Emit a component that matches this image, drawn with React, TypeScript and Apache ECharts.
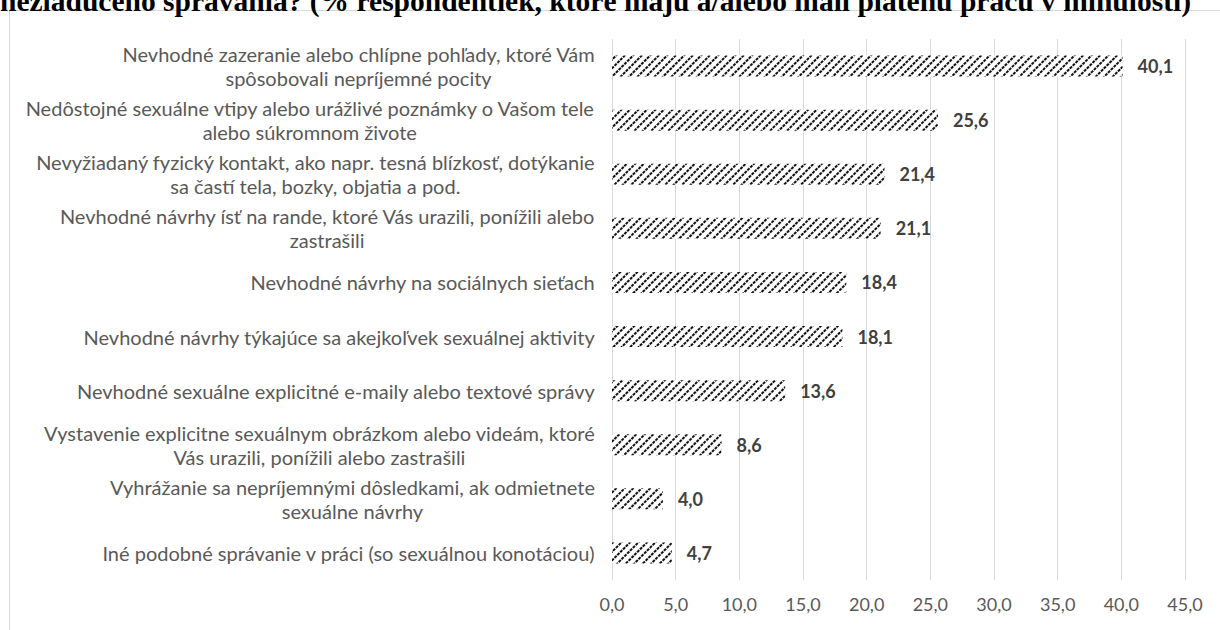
import React, { useEffect, useRef } from "react";
import * as echarts from "echarts";

const TITLE = "neziadúceho správania? (% respondentiek, ktoré majú a/alebo mali platenú prácu v minulosti)";

const categories = [
  "Nevhodné zazeranie alebo chlípne pohľady, ktoré Vám\nspôsobovali nepríjemné pocity",
  "Nedôstojné sexuálne vtipy alebo urážlivé poznámky o Vašom tele\nalebo súkromnom živote",
  "Nevyžiadaný fyzický kontakt, ako napr. tesná blízkosť, dotýkanie\nsa častí tela, bozky, objatia a pod.",
  "Nevhodné návrhy ísť na rande, ktoré Vás urazili, ponížili alebo\nzastrašili",
  "Nevhodné návrhy na sociálnych sieťach",
  "Nevhodné návrhy týkajúce sa akejkoľvek sexuálnej aktivity",
  "Nevhodné sexuálne explicitné e-maily alebo textové správy",
  "Vystavenie explicitne sexuálnym obrázkom alebo videám, ktoré\nVás urazili, ponížili alebo zastrašili",
  "Vyhrážanie sa nepríjemnými dôsledkami, ak odmietnete\nsexuálne návrhy",
  "Iné podobné správanie v práci (so sexuálnou konotáciou)",
];

const values = [40.1, 25.6, 21.4, 21.1, 18.4, 18.1, 13.6, 8.6, 4.0, 4.7];

const AXIS_MIN = 0;
const AXIS_MAX = 45;
const AXIS_STEP = 5;

const fmt = (v: number) => v.toFixed(1).replace(".", ",");

export default function App() {
  const ref = useRef<HTMLDivElement>(null);
  useEffect(() => {
    if (!ref.current) return;
    const chart = echarts.init(ref.current, undefined, { renderer: "svg" });
    chart.setOption({
      animation: false,
      backgroundColor: "#ffffff",
      graphic: [
        {
          type: "rect",
          silent: true,
          shape: { x: 9.5, y: 10.5, width: 1400, height: 800 },
          style: { fill: "none", stroke: "#d9d9d9", lineWidth: 1 },
          z: -1,
        },
        {
          type: "text",
          silent: true,
          x: 0,
          y: 16,
          style: {
            text: TITLE,
            fontFamily: "Liberation Serif",
            fontWeight: "bold",
            fontSize: 29.5,
            fill: "#000000",
            verticalAlign: "bottom",
            align: "left",
          },
        },
      ],
      grid: { left: 612, right: 35, top: 39, bottom: 50, containLabel: false },
      xAxis: {
        type: "value",
        min: AXIS_MIN,
        max: AXIS_MAX,
        interval: AXIS_STEP,
        axisLine: { show: false },
        axisTick: { show: false },
        splitLine: { show: true, lineStyle: { color: "#d9d9d9", width: 1 } },
        axisLabel: {
          color: "#595959",
          fontFamily: "Lato",
          fontSize: 18,
          margin: 15,
          formatter: (v: number) => fmt(v),
        },
      },
      yAxis: {
        type: "category",
        data: categories,
        inverse: true,
        axisLine: { show: false },
        axisTick: { show: false },
        splitLine: { show: false },
        axisLabel: {
          margin: 17,
          align: "right",
          formatter: (v: string) =>
            v
              .split("\n")
              .map((l) => "{c|" + l + "}")
              .join("\n"),
          rich: {
            c: {
              align: "center",
              color: "#595959",
              fontFamily: "Lato",
              fontSize: 20,
              lineHeight: 24,
            },
          },
        },
      },
      series: [
        {
          type: "bar",
          data: values,
          barWidth: 21,
          itemStyle: {
            color: "#ffffff",
            decal: {
              symbol: "rect",
              symbolSize: 1,
              color: "#111111",
              dashArrayX: [3, 1],
              dashArrayY: [1.5, 3.5],
              rotation: -Math.PI / 4,
            },
          },
          label: {
            show: true,
            position: "right",
            distance: 15,
            color: "#404040",
            fontFamily: "Lato",
            fontWeight: "bold",
            fontSize: 18,
            formatter: (p: any) => fmt(p.value),
          },
        },
      ],
    });
    return () => chart.dispose();
  }, []);
  return (
    <div
      ref={ref}
      style={{ position: "fixed", left: 0, top: 0, width: 1220, height: 630 }}
    />
  );
}
